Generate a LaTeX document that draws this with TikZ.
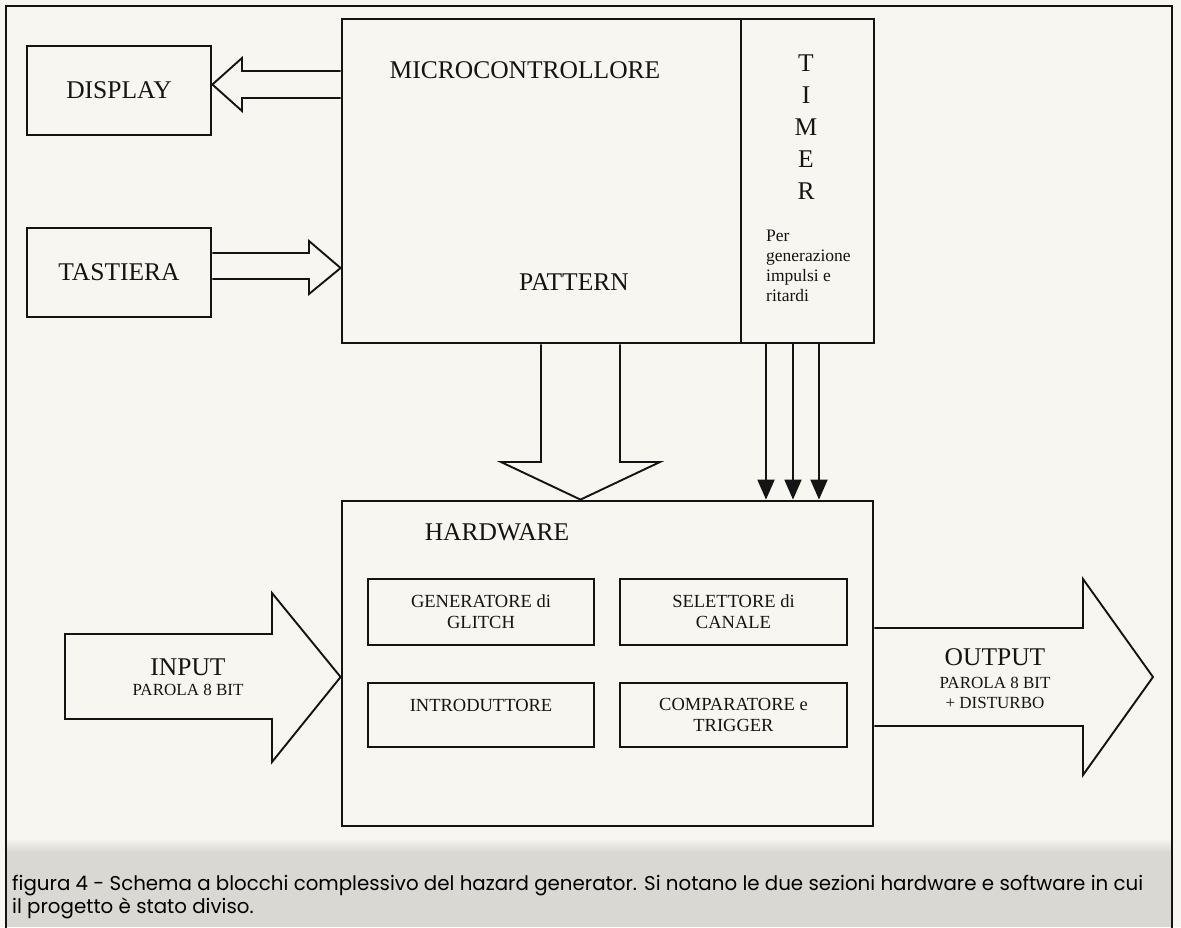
\documentclass[tikz,border=0pt]{standalone}
\usepackage{fontspec}
\usepackage{graphicx}
\setmainfont{Liberation Serif}
\newfontfamily\capfont{Poppins}
\usetikzlibrary{arrows.meta}
\definecolor{paper}{RGB}{248,246,240}
\definecolor{band}{RGB}{218,216,210}
\definecolor{ink}{RGB}{20,20,20}
\definecolor{capink}{RGB}{80,80,80}
\newsavebox\caplineone
\newsavebox\caplinetwo
\begin{document}
\sbox\caplineone{\capfont\fontsize{20}{24}\selectfont figura 4 - Schema a blocchi complessivo del hazard generator. Si notano le due sezioni hardware e software in cui}%
\sbox\caplinetwo{\capfont\fontsize{20}{24}\selectfont il progetto è stato diviso.}%
\pgfmathsetmacro\capsx{1131/\wd\caplineone}%
\begin{tikzpicture}[x=1pt,y=-1pt,
  bigbox/.style={draw=ink,line width=2.8pt,inner sep=0pt},
  smallbox/.style={draw=ink,line width=1.4pt,inner sep=0pt},
  blockarrow/.style={draw=ink,line width=1.9pt,line join=miter},
  big/.style={font=\fontsize{25.5}{30}\selectfont,text=ink,inner sep=0pt},
  mid/.style={font=\fontsize{18.5}{21}\selectfont,text=ink,align=center},
  small/.style={font=\fontsize{17.5}{20}\selectfont,text=ink,align=left,inner sep=0pt},
  tiny/.style={font=\fontsize{17}{20}\selectfont,text=ink,inner sep=0pt},
  timerarrow/.style={draw=ink,line width=1.9pt,-{Triangle[length=20pt,width=17pt]}},
  captext/.style={anchor=base west,inner sep=0pt,text=capink},
]
\useasboundingbox (0,0) rectangle (1181,927);
\fill[paper] (0,0) rectangle (1181,927);
\shade[top color=paper,bottom color=band] (7,838) rectangle (1171,852);
\fill[band] (7,852) rectangle (1171,927);
\draw[ink,line width=2.2pt] (6,930) -- (6,6) -- (1172,6) -- (1172,930);

% main blocks
\node[bigbox,big,minimum width=184pt,minimum height=89pt] (display) at (119,90.5) {DISPLAY};
\node[bigbox,big,minimum width=184pt,minimum height=89pt] (tastiera) at (119,272.5) {TASTIERA};
\node[bigbox,minimum width=532pt,minimum height=324pt] (micro) at (608,181) {};
\coordinate (tdiv) at (741,0);
\draw[ink,line width=1.6pt] (micro.north -| tdiv) -- (micro.south -| tdiv);
\node[big] (mctitle) at (525,70) {MICROCONTROLLORE};
\node[big] (pattern) at (574,282) {PATTERN};
\node[big,align=center,font=\fontsize{25.5}{32}\selectfont] (timer) at (806,127) {T\\I\\M\\E\\R};
\node[small,anchor=north west] (per) at (766,230) {Per\\generazione\\impulsi e\\ritardi};

\node[bigbox,minimum width=531pt,minimum height=325pt] (hw) at (607.5,663.5) {};
\node[big] (hwtitle) at (497,532) {HARDWARE};
\node[smallbox,mid,minimum width=226pt,minimum height=66pt] (gen) at (481,612) {GENERATORE di\\GLITCH};
\node[smallbox,mid,minimum width=227pt,minimum height=66pt] (sel) at (733.5,612) {SELETTORE di\\CANALE};
\node[smallbox,minimum width=226pt,minimum height=64pt] (intro) at (481,715) {};
\node[mid,inner sep=0pt] (introlabel) at (481,705) {INTRODUTTORE};
\node[smallbox,mid,minimum width=227pt,minimum height=64pt] (comp) at (733.5,715) {COMPARATORE e\\TRIGGER};

% display arrow
\draw[blockarrow] (micro.west |- 0,71) -- (242,71) -- (242,58) -- (display.east |- 0,84.5)
  -- (242,111) -- (242,98) -- (micro.west |- 0,98);
% tastiera arrow
\draw[blockarrow] (tastiera.east |- 0,253) -- (309,253) -- (309,241) -- (micro.west |- 0,268)
  -- (309,294) -- (309,279) -- (tastiera.east |- 0,279);
% pattern arrow
\draw[blockarrow] (micro.south -| 541,0) -- (541,462) -- (501,462) -- (hw.north -| 580.5,0)
  -- (660,462) -- (620,462) -- (micro.south -| 620,0);
% timer arrows
\draw[timerarrow] (micro.south -| 766,0) -- (hw.north -| 766,0);
\draw[timerarrow] (micro.south -| 793,0) -- (hw.north -| 793,0);
\draw[timerarrow] (micro.south -| 819,0) -- (hw.north -| 819,0);

% input arrow
\draw[blockarrow] (65,634) -- (272,634) -- (272,593) -- (hw.west |- 0,677)
  -- (272,762) -- (272,719) -- (65,719) -- cycle;
\node[big] (inputlabel) at (188,667) {INPUT};
\node[tiny] (inputsub) at (188,690) {PAROLA 8 BIT};

% output arrow
\draw[blockarrow] (hw.east |- 0,628) -- (1083,628) -- (1083,579) -- (1153,677)
  -- (1083,775) -- (1083,726) -- (hw.east |- 0,726);
\node[big] (outputlabel) at (995,657) {OUTPUT};
\node[tiny,align=center,font=\fontsize{17}{20}\selectfont] (outputsub) at (995,693) {PAROLA 8 BIT\\+ DISTURBO};

% caption
\node[captext] (cap1) at (12,890) {\scalebox{\capsx}[1]{\usebox\caplineone}};
\node[captext] (cap2) at (12,913) {\scalebox{\capsx}[1]{\usebox\caplinetwo}};
\end{tikzpicture}
\end{document}
